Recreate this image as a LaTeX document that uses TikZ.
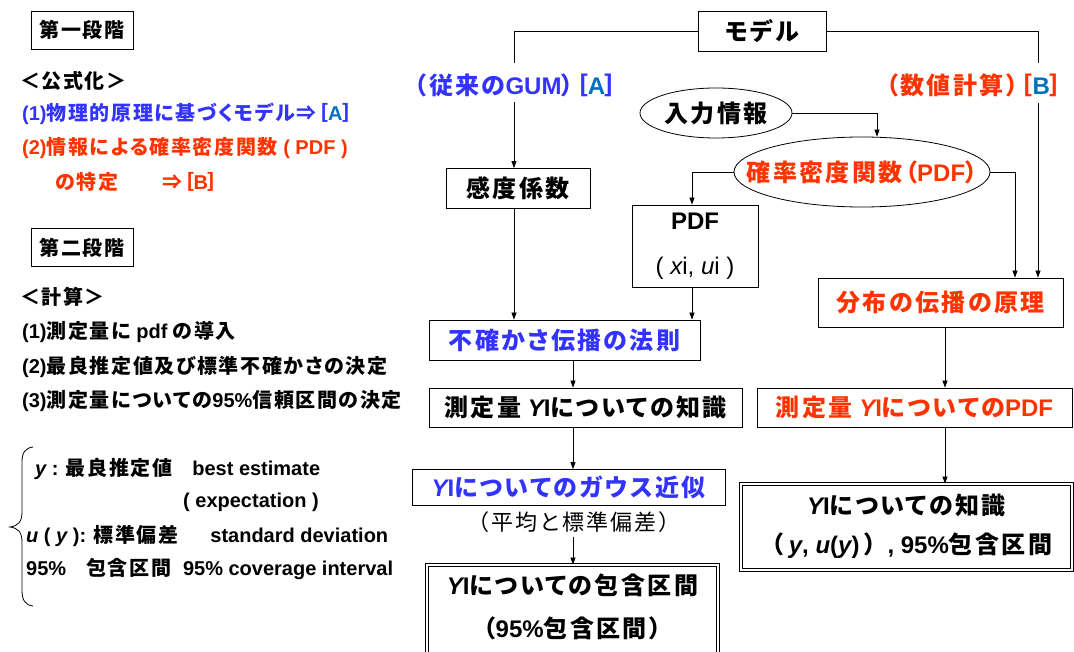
\documentclass[tikz,border=0pt]{standalone}
\usepackage{fontspec}
\setmainfont{Noto Sans CJK JP}[RawFeature=+palt,LetterSpace=8]
\newfontfamily\jpw{Noto Sans CJK JP}[RawFeature=+palt,LetterSpace=10]
\newfontfamily\jpn{Noto Sans CJK JP}[LetterSpace=4]
\newfontfamily\la{Liberation Sans}
\newcommand\LA[1]{{\la #1}}
\usetikzlibrary{arrows.meta,shapes.geometric}
\definecolor{gumblue}{RGB}{51,51,255}
\definecolor{abblue}{RGB}{0,112,192}
\definecolor{numred}{RGB}{255,51,0}
\begin{document}
\begin{tikzpicture}[x=1pt,y=-1pt,
  box/.style={draw,line width=0.8pt,inner sep=0pt,align=center},
  dbl/.style={draw,double,double distance=2pt,line width=0.8pt,inner sep=0pt},
  oval/.style={draw,ellipse,line width=0.8pt,inner sep=0pt},
  arr/.style={-{Triangle[length=7pt,width=5pt]},line width=0.7pt},
  ln/.style={line width=0.7pt},
  big/.style={font=\jpw\bfseries\fontsize{24}{28}\selectfont},
  lt/.style={anchor=west,inner sep=0pt,font=\bfseries\fontsize{20}{24}\selectfont},
  stagebox/.style={box,font=\bfseries\fontsize{20}{24}\selectfont,minimum width=102pt,minimum height=38pt}]
\useasboundingbox (0,0) rectangle (1074,652);

% ---------- left column ----------
\node[stagebox] (s1) at (82,30) {第一段階};
\node[lt] (f0) at (20,81) {＜公式化＞};
\node[lt,text=gumblue] (f1) at (22,114) {\LA{(1)}物理的原理に基づくモデル⇒［\textcolor{abblue}{\LA{A}}］};
\node[lt,text=numred] (f2) at (22,148) {\LA{(2)}情報による確率密度関数\LA{ ( PDF )}};
\node[lt,text=numred] (f3) at (55,182) {の特定\hspace{2.2em}⇒［\LA{B}］};
\node[stagebox] (s2) at (82,247.5) {第二段階};
\node[lt] (c0) at (20,297) {＜計算＞};
\node[lt] (c1) at (22,332) {\LA{(1)}測定量に\LA{ pdf }の導入};
\node[lt] (c2) at (22,367) {\LA{(2)}最良推定値及び標準不確かさの決定};
\node[lt] (c3) at (22,401) {\LA{(3)}測定量についての\LA{95\%}信頼区間の決定};
\draw[line width=0.8pt] (33,447) .. controls (25,448) and (22,453) .. (22,462) -- (22,512)
  .. controls (22,522) and (18,526) .. (10,527) .. controls (18,528) and (22,532) .. (22,542)
  -- (22,590) .. controls (22,600) and (25,605) .. (33,606);
\node[lt] (d1) at (35,469) {\LA{\itshape y}\LA{ : }最良推定値\LA{\quad best estimate}};
\node[lt] (d2) at (183,502) {\LA{( expectation )}};
\node[lt] (d3) at (26,536) {\LA{\itshape u}\LA{ ( }\LA{\itshape y}\LA{ ): }標準偏差\LA{\hspace{1.6em}standard deviation}};
\node[lt] (d4) at (26,569) {\LA{95\%\hspace{1em}}包含区間\LA{\hspace{0.6em}95\% coverage interval}};

% ---------- right diagram ----------
\node[box,big,minimum width=128pt,minimum height=40pt] (model) at (762,31) {モデル};
\node[big,text=gumblue,inner sep=0pt] (gum) at (516,85) {（従来の\LA{GUM}）［\textcolor{abblue}{\LA{A}}］};
\node[big,text=numred,inner sep=0pt] (num) at (974,85) {（数値計算）［\textcolor{abblue}{\LA{B}}］};
\coordinate (gA) at (514,63);
\coordinate (gB) at (514,102);
\coordinate (bA) at (1038,63);
\coordinate (bB) at (1038,103);
\coordinate (colL) at (573,0);
\coordinate (colR) at (945,0);

\node[oval,minimum width=152pt,minimum height=50pt] (input) at (716,113) {};
\node[big,inner sep=0pt] (inputt) at (input.center) {入力情報};
\node[oval,minimum width=256pt,minimum height=70pt] (pdfell) at (862,172) {};
\node[big,text=numred,inner sep=0pt] (pdfellt) at (pdfell.center) {確率密度関数（\LA{PDF}）};
\node[box,big,minimum width=144pt,minimum height=40pt] (sens) at (518,188.5) {感度係数};
\node[box,big,minimum width=126pt,minimum height=82pt] (pdfbox) at (695,246) {\LA{PDF}\\[17pt]{\mdseries\LA{( \itshape x\upshape i, \itshape u\upshape i )}}};
\node[box,big,text=gumblue,minimum width=271pt,minimum height=40pt] (law) at (564.5,340) {不確かさ伝播の法則};
\node[box,big,minimum width=313pt,minimum height=39pt] (knowY) at (585.5,407.5) {測定量\LA{ \itshape Y\upshape I}についての知識};
\node[box,big,text=gumblue,minimum width=313pt,minimum height=36pt] (gauss) at (568.5,487.5) {\LA{\itshape Y\upshape I}についてのガウス近似};
\node[inner sep=0pt,font=\jpn\mdseries\fontsize{22}{26}\selectfont\addfontfeature{LetterSpace=9}] (mean) at (574,522) {（平均と標準偏差）};
\node[dbl,minimum width=291pt,minimum height=95pt] (ivY) at (572.5,612.5) {};
\node[big,inner sep=0pt] (ivY1) at (572.5,585) {\LA{\itshape Y\upshape I}についての包含区間};
\node[big,inner sep=0pt] (ivY2) at (572.5,628) {（\LA{95\%}包含区間）};

\node[box,big,text=numred,minimum width=245pt,minimum height=49pt] (distrib) at (940.5,302.5) {分布の伝播の原理};
\node[box,big,text=numred,minimum width=315pt,minimum height=39pt] (pdfY) at (914.5,407.5) {測定量\LA{ \itshape Y\upshape I}についての\LA{PDF}};
\node[dbl,minimum width=331pt,minimum height=86pt] (knowR) at (906.5,527) {};
\node[big,inner sep=0pt] (kR1) at (906.5,505) {\LA{\itshape Y\upshape I}についての知識};
\node[big,inner sep=0pt] (kR2) at (906.5,546) {{\jpn（}\LA{\,\itshape y\upshape, \itshape u\upshape (\itshape y\upshape )\,}{\jpn）}\LA{, 95\%}包含区間};

% ---------- connectors ----------
\draw[ln] (model.west) -| (gA);
\draw[ln] (model.east) -| (bA);
\draw[arr] (gB) -- (gB |- sens.north);
\draw[arr] (bB) -- (bB |- distrib.north);
\draw[arr] (input.east) -| ([xshift=15pt]pdfell.north);
\draw[arr] (pdfell.west) -| ([xshift=-3pt]pdfbox.north);
\draw[arr] (pdfell.east) -| ([xshift=74.5pt]distrib.north);
\draw[arr] (sens.south -| gB) -- (law.north -| gB);
\draw[arr] ([xshift=-3pt]pdfbox.south) -- ([xshift=-3pt]pdfbox.south |- law.north);
\draw[arr] (law.south -| colL) -- (knowY.north -| colL);
\draw[arr] (knowY.south -| colL) -- (gauss.north -| colL);
\draw[arr] ([yshift=-4pt]mean.south -| colL) -- (ivY.north -| colL);
\draw[arr] (distrib.south -| colR) -- (pdfY.north -| colR);
\draw[arr] (pdfY.south -| colR) -- (knowR.north -| colR);
\end{tikzpicture}
\end{document}
